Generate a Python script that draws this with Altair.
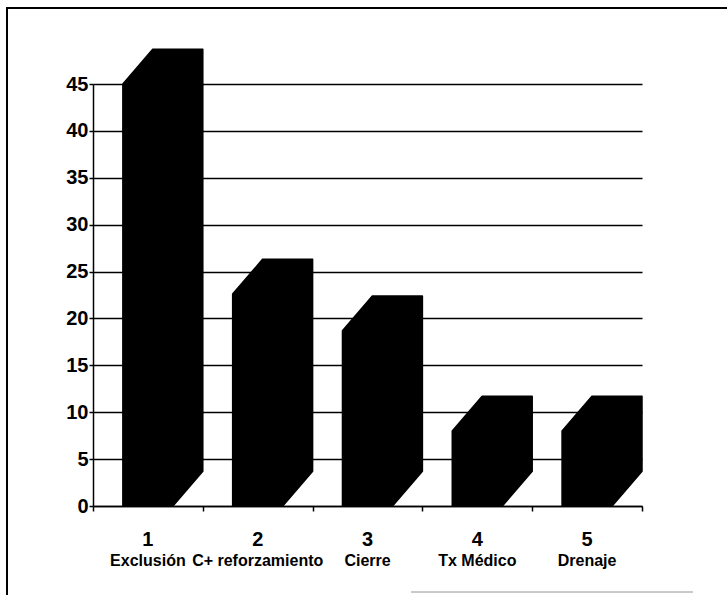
import altair as alt
import pandas as pd

# ---- data ----
numbers = ["1", "2", "3", "4", "5"]
names = ["Exclusión", "C+ reforzamiento", "Cierre", "Tx Médico", "Drenaje"]
values = [45, 22.6, 18.7, 8, 8]
y_ticks = [0, 5, 10, 15, 20, 25, 30, 35, 40, 45]

# ---- 3D bar styling (in axis units) ----
HALF = 0.228   # half width of the front face
DX = 0.272     # depth shift to the right
DY = 3.7       # depth shift upwards

rows = []
for i, (name, v) in enumerate(zip(names, values), start=1):
    c = float(i)
    rows += [
        dict(cat=name, x=c - HALF, lo=0, hi=v),
        dict(cat=name, x=c - HALF + DX, lo=0, hi=v + DY),
        dict(cat=name, x=c + HALF, lo=0, hi=v + DY),
        dict(cat=name, x=c + HALF + DX, lo=DY, hi=v + DY),
    ]
bars_df = pd.DataFrame(rows)
labels_df = pd.DataFrame({"pos": [float(i) for i in range(1, len(names) + 1)],
                          "num": numbers, "name": names})

W, H = 549, 422
FONT = "Liberation Sans Narrow, Arial Narrow, Liberation Sans, Arial"

xscale = alt.Scale(domain=[0.5, 5.5], nice=False, zero=False)
yscale = alt.Scale(domain=[0, 45], nice=False)

x_axis = alt.Axis(values=[0.5, 1.5, 2.5, 3.5, 4.5, 5.5], labels=False,
                  title=None, grid=False, tickSize=5, tickColor="black",
                  tickWidth=1.5, domainColor="black", domainWidth=1.5)
y_axis = alt.Axis(values=y_ticks, title=None, grid=True, gridColor="black",
                  gridWidth=1.6, domainColor="black", domainWidth=1.5,
                  tickColor="black", tickSize=4, tickWidth=1.5,
                  labelFont=FONT, labelFontSize=20, labelFontWeight="bold",
                  labelColor="black", labelPadding=1)

bar_layers = []
for name in names:
    sub = bars_df[bars_df["cat"] == name].reset_index(drop=True)
    bar_layers.append(
        alt.Chart(sub).mark_area(
            color="black", stroke="black", strokeWidth=1.5, strokeJoin="round",
            interpolate="linear", opacity=1, orient="vertical"
        ).encode(
            x=alt.X("x:Q", scale=xscale, axis=x_axis),
            y=alt.Y("hi:Q", scale=yscale, axis=y_axis),
            y2="lo:Q",
        )
    )

num_text = alt.Chart(labels_df).mark_text(
    font=FONT, fontSize=20, fontWeight="bold", color="black",
    baseline="alphabetic", align="center"
).encode(x=alt.X("pos:Q", scale=xscale, axis=x_axis), y=alt.value(H + 40), text="num:N")

name_text = alt.Chart(labels_df).mark_text(
    font=FONT, fontSize=16, fontWeight="bold", color="black",
    baseline="alphabetic", align="center"
).encode(x=alt.X("pos:Q", scale=xscale, axis=x_axis), y=alt.value(H + 60), text="name:N")

# frame decoration around the figure
frame_top = alt.Chart(labels_df).mark_rule(color="black", strokeWidth=2).encode(
    x=alt.value(-87), x2=alt.value(634), y=alt.value(-76))
frame_left = alt.Chart(labels_df).mark_rule(color="black", strokeWidth=2).encode(
    x=alt.value(-86), y=alt.value(-77), y2=alt.value(511))
frame_bottom = alt.Chart(labels_df).mark_rule(color="#c8c8c8", strokeWidth=1).encode(
    x=alt.value(318), x2=alt.value(600), y=alt.value(508))

chart = alt.layer(*bar_layers, num_text, name_text, frame_top, frame_left, frame_bottom).properties(
    width=W, height=H,
    padding={"left": 93, "top": 84, "right": 85, "bottom": 89},
    autosize=alt.AutoSizeParams(type="none"),
    background="white",
).configure_view(stroke=None)

chart.save("out.html", embed_options={"renderer": "svg", "actions": False})
